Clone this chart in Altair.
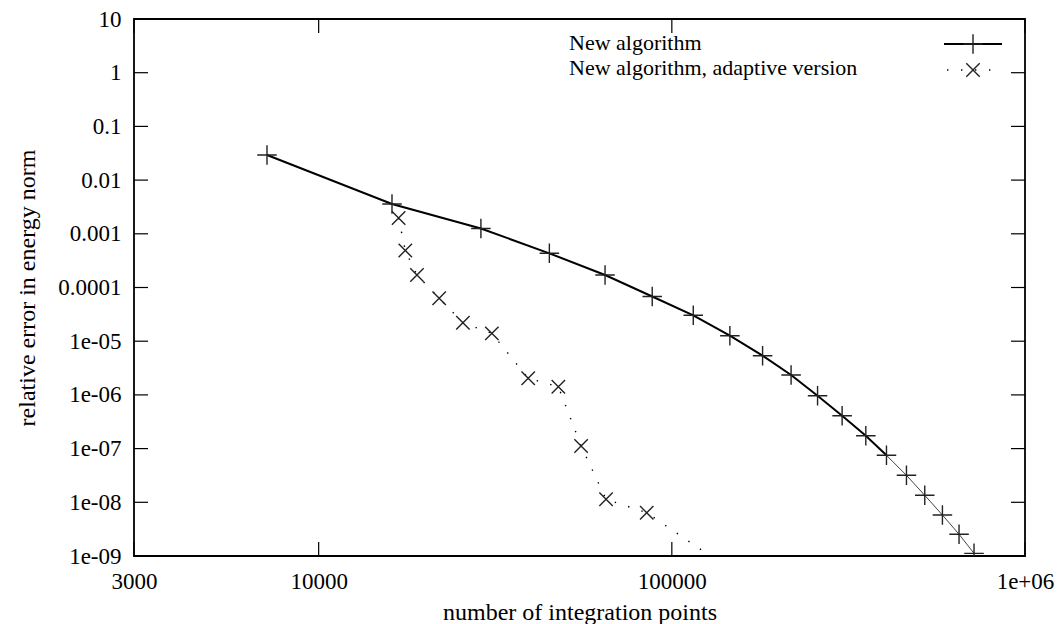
import math
import altair as alt
import pandas as pd

# ---------------- data ----------------
new_points = [7140, 16130, 28800, 45000, 64700, 88000, 115000, 146000, 180700,
              217600, 258600, 303500, 354200, 405300, 461700, 520200, 583700,
              650500, 717200]
new_error = [0.0293, 0.00359, 0.001256, 0.000433, 0.000171, 6.80e-5, 3.04e-5,
             1.265e-5, 5.37e-6, 2.35e-6, 9.66e-7, 4.10e-7, 1.74e-7, 7.50e-8,
             3.18e-8, 1.35e-8, 5.80e-9, 2.54e-9, 1.12e-9]

adaptive_points = [16840, 17590, 18980, 21940, 25610, 30930, 39200, 47720,
                   55340, 65120, 84900, 156000]
adaptive_error = [0.00197, 0.000489, 0.000171, 6.29e-5, 2.21e-5, 1.40e-5,
                  2.04e-6, 1.42e-6, 1.12e-7, 1.14e-8, 6.40e-9, 4.2e-10]

legend_labels = ["New algorithm", "New algorithm, adaptive version"]

x_tick_values = [3000, 10000, 100000, 1000000]
x_tick_labels = ["3000", "10000", "100000", "1e+06"]
y_tick_values = [10, 1, 0.1, 0.01, 0.001, 0.0001, 1e-05, 1e-06, 1e-07, 1e-08, 1e-09]
y_tick_labels = ["10", "1", "0.1", "0.01", "0.001", "0.0001",
                 "1e-05", "1e-06", "1e-07", "1e-08", "1e-09"]

x_title = "number of integration points"
y_title = "relative error in energy norm"

# ---------------- layout ----------------
W, H = 891, 537
FONT = "'Liberation Serif', 'Times New Roman', 'DejaVu Serif', serif"
TICK = 14

new_df = pd.DataFrame({"n": new_points, "err": new_error, "idx": range(len(new_points))})
ad_df = pd.DataFrame({"n": adaptive_points, "err": adaptive_error})
xt_df = pd.DataFrame({"n": x_tick_values})
yt_df = pd.DataFrame({"err": y_tick_values})

x_expr = " : ".join(
    f"abs(log(datum.value)/LN10 - {math.log10(v):.4f}) < 0.01 ? '{l}'"
    for v, l in zip(x_tick_values, x_tick_labels)) + " : ''"
y_expr = " : ".join(
    f"round(log(datum.value)/LN10) == {round(math.log10(v))} ? '{l}'"
    for v, l in zip(y_tick_values, y_tick_labels)) + " : ''"

xs = alt.Scale(type="log", domain=[3000, 1000000], nice=False)
ys = alt.Scale(type="log", domain=[1e-9, 10], nice=False)

x_axis = alt.Axis(values=x_tick_values, labelExpr=x_expr, title=x_title,
                  grid=False, ticks=False, tickSize=0, domain=False,
                  labelFont=FONT, labelFontSize=23, labelColor="black",
                  labelBaseline="alphabetic", labelPadding=32, labelFlush=False,
                  labelOverlap=False, labelBound=False,
                  titleFont=FONT, titleFontSize=24, titleFontWeight="normal",
                  titleColor="black", titleBaseline="alphabetic",
                  titleX=W / 2, titleY=63, titleAlign="center")
y_axis = alt.Axis(values=y_tick_values, labelExpr=y_expr, title=y_title,
                  grid=False, ticks=False, tickSize=0, domain=False,
                  labelFont=FONT, labelFontSize=23, labelColor="black",
                  labelAlign="right", labelBaseline="middle", labelPadding=13,
                  labelFlush=False, labelOverlap=False, labelBound=False,
                  titleFont=FONT, titleFontSize=24, titleFontWeight="normal",
                  titleColor="black", titleAngle=270, titleBaseline="alphabetic",
                  titleAlign="center", titleX=-100, titleY=H / 2)

X = alt.X("n:Q", scale=xs, axis=x_axis)
Y = alt.Y("err:Q", scale=ys, axis=y_axis)

PLUS = "M-1,0L1,0M0,-1L0,1"
CROSS = "M-1,-1L1,1M-1,1L1,-1"

# main line, thick part then thin part
line_thick = alt.Chart(new_df).transform_filter("datum.idx <= 13").mark_line(
    color="black", strokeWidth=2, clip=True).encode(x=X, y=Y)
line_thin = alt.Chart(new_df).transform_filter("datum.idx >= 13").mark_line(
    color="#444", strokeWidth=1, clip=True).encode(x=X, y=Y)
pts_new = alt.Chart(new_df).mark_point(
    shape=PLUS, size=380, filled=False, stroke="#222", strokeWidth=1.4, opacity=1, clip=True
).encode(x=X, y=Y)

line_ad = alt.Chart(ad_df).mark_line(
    color="black", strokeWidth=1.4, strokeDash=[1.4, 12.6], clip=True).encode(x=X, y=Y)
pts_ad = alt.Chart(ad_df).mark_point(
    shape=CROSS, size=180, filled=False, stroke="#222", strokeWidth=1.4, opacity=1, clip=True
).encode(x=X, y=Y)

# inward ticks on all four sides
xt_bottom = alt.Chart(xt_df).mark_rule(color="black", strokeWidth=1.2).encode(
    x=X, y=alt.value(H), y2=alt.value(H - TICK))
xt_top = alt.Chart(xt_df).mark_rule(color="black", strokeWidth=1.2).encode(
    x=X, y=alt.value(0), y2=alt.value(TICK))
yt_left = alt.Chart(yt_df).mark_rule(color="black", strokeWidth=1.2).encode(
    y=Y, x=alt.value(0), x2=alt.value(TICK))
yt_right = alt.Chart(yt_df).mark_rule(color="black", strokeWidth=1.2).encode(
    y=Y, x=alt.value(W - TICK), x2=alt.value(W))

# legend (gnuplot style, top right)
LX_TEXT, LX0, LX1, LXM = 435, 810, 868, 839
ROW_Y = [25, 51]
TEXT_Y = [31, 56]
leg = []
for i, lab in enumerate(legend_labels):
    d = pd.DataFrame({"label": [lab]})
    leg.append(alt.Chart(d).mark_text(
        font=FONT, fontSize=22, align="left", baseline="alphabetic", color="black"
    ).encode(text="label:N", x=alt.value(LX_TEXT), y=alt.value(TEXT_Y[i])))
leg.append(alt.Chart(pd.DataFrame({"label": [legend_labels[0]]})).mark_rule(
    color="black", strokeWidth=2).encode(x=alt.value(LX0), x2=alt.value(LX1), y=alt.value(ROW_Y[0])))
leg.append(alt.Chart(pd.DataFrame({"label": [legend_labels[1]]})).mark_rule(
    color="black", strokeWidth=1.4, strokeDash=[1.4, 12.6]).encode(
    x=alt.value(LX0 + 3), x2=alt.value(LX1), y=alt.value(ROW_Y[1])))
leg.append(alt.Chart(pd.DataFrame({"label": [legend_labels[0]]})).mark_point(
    shape=PLUS, size=380, filled=False, stroke="#222", strokeWidth=1.4, opacity=1
).encode(x=alt.value(LXM), y=alt.value(ROW_Y[0])))
leg.append(alt.Chart(pd.DataFrame({"label": [legend_labels[1]]})).mark_point(
    shape=CROSS, size=180, filled=False, stroke="#222", strokeWidth=1.4, opacity=1
).encode(x=alt.value(LXM), y=alt.value(ROW_Y[1])))

chart = alt.layer(
    line_thick, line_thin, pts_new, line_ad, pts_ad,
    xt_bottom, xt_top, yt_left, yt_right, *leg
).properties(
    width=W, height=H,
    padding={"left": 134, "top": 19, "right": 38, "bottom": 68},
    autosize=alt.AutoSizeParams(type="none"),
    background="white",
).configure_view(stroke="black", strokeWidth=1.8)

chart.save("out.html", embed_options={"renderer": "svg", "actions": False})
